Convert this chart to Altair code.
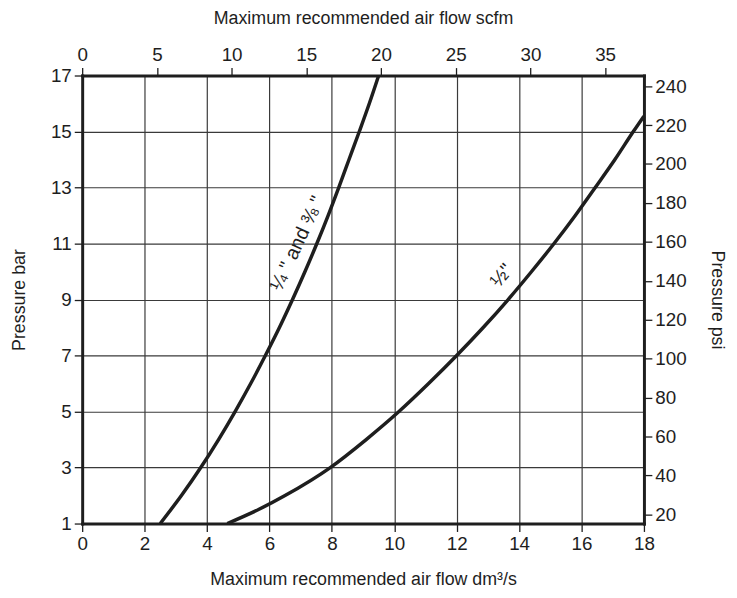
import altair as alt
import pandas as pd

# ---- data ----
bar_quarter = [1, 2, 3, 4, 5, 6, 7, 8, 9, 10, 11, 12, 13, 14, 15, 16, 17]
flow_quarter = [2.5, 3.18, 3.8, 4.37, 4.9, 5.4, 5.87, 6.32, 6.74, 7.14, 7.52, 7.88, 8.22, 8.55, 8.88, 9.2, 9.5]
bar_half = [1, 1.5, 2, 3, 4, 5, 6, 7, 8, 9, 10, 11, 12, 13, 14, 15, 15.55]
flow_half = [4.65, 5.65, 6.5, 7.95, 9.1, 10.15, 11.1, 12.0, 12.85, 13.65, 14.4, 15.12, 15.8, 16.44, 17.07, 17.66, 18.0]

x_ticks = [0, 2, 4, 6, 8, 10, 12, 14, 16, 18]
y_ticks = [1, 3, 5, 7, 9, 11, 13, 15, 17]
scfm_ticks = [0, 5, 10, 15, 20, 25, 30, 35]
psi_ticks = [20, 40, 60, 80, 100, 120, 140, 160, 180, 200, 220, 240]

x_domain = [0, 18]
y_domain = [1, 17]
scfm_domain = [0, 37.6]
psi_domain = [15.2, 245.5]

label_text = ['\u00bc " and \u215c "', '\u00bd"']
label_x = [6.9, 13.45]
label_y = [11.0, 9.85]
label_angle = [295, 310]

FONT = "Liberation Sans"
W, H = 568, 453
INK = "#1e1e1e"

curves = pd.concat([
    pd.DataFrame({"size": "quarter", "bar": bar_quarter, "flow": flow_quarter}),
    pd.DataFrame({"size": "half", "bar": bar_half, "flow": flow_half}),
])
labels = pd.DataFrame({"text": label_text, "flow": label_x, "bar": label_y, "angle": label_angle})
sec = pd.DataFrame({"scfm": scfm_domain, "psi": psi_domain})

axis_common = dict(
    labelFont=FONT, labelFontSize=19, labelColor=INK, labelFlush=False,
    tickColor=INK, tickWidth=1.3, tickSize=8, labelPadding=3,
    domain=True, domainColor=INK, domainWidth=3, domainCap="square",
    titleFont=FONT, titleFontSize=18, titleFontWeight="normal", titleColor=INK,
    titleAlign="center", titleBaseline="middle",
)

x_scale = alt.Scale(domain=x_domain, nice=False, zero=False)
y_scale = alt.Scale(domain=y_domain, nice=False, zero=False)

x_enc = alt.X("flow:Q", scale=x_scale, axis=alt.Axis(
    values=x_ticks, orient="bottom", grid=True, gridColor="#3a3a3a", gridWidth=1.2,
    title="Maximum recommended air flow dm\u00b3/s", titleX=W / 2, titleY=57, **axis_common))
y_enc = alt.Y("bar:Q", scale=y_scale, axis=alt.Axis(
    values=y_ticks, orient="left", grid=True, gridColor="#3a3a3a", gridWidth=1.2,
    title="Pressure bar", titleAngle=270, titleX=-63, titleY=H / 2, **axis_common))

lines = alt.Chart(curves).mark_line(color=INK, strokeWidth=3.5, interpolate="monotone").encode(
    x=x_enc, y=y_enc, detail="size:N", order="bar:Q")

def label_layer(i):
    return alt.Chart(labels.iloc[[i]]).mark_text(
        font=FONT, fontSize=20, color=INK, angle=label_angle[i], align="center", baseline="middle"
    ).encode(
        x=alt.X("flow:Q", scale=x_scale, axis=None),
        y=alt.Y("bar:Q", scale=y_scale, axis=None),
        text="text:N",
    )

secondary = alt.Chart(sec).mark_point(opacity=0).encode(
    x=alt.X("scfm:Q", scale=alt.Scale(domain=scfm_domain, nice=False, zero=False), axis=alt.Axis(
        values=scfm_ticks, orient="top", grid=False,
        title="Maximum recommended air flow scfm", titleX=W / 2, titleY=-58, **axis_common)),
    y=alt.Y("psi:Q", scale=alt.Scale(domain=psi_domain, nice=False, zero=False), axis=alt.Axis(
        values=psi_ticks, orient="right", grid=False,
        title="Pressure psi", titleAngle=90, titleX=73, titleY=H / 2, **axis_common)),
)

chart = alt.layer(lines, label_layer(0), label_layer(1), secondary).resolve_scale(
    x="independent", y="independent"
).properties(
    width=W, height=H,
    autosize=alt.AutoSizeParams(type="none"),
    padding={"left": 75, "top": 65, "right": 86, "bottom": 70},
    background="white",
).configure_view(stroke=None)

chart.save("out.html", embed_options={"renderer": "svg", "actions": False})
